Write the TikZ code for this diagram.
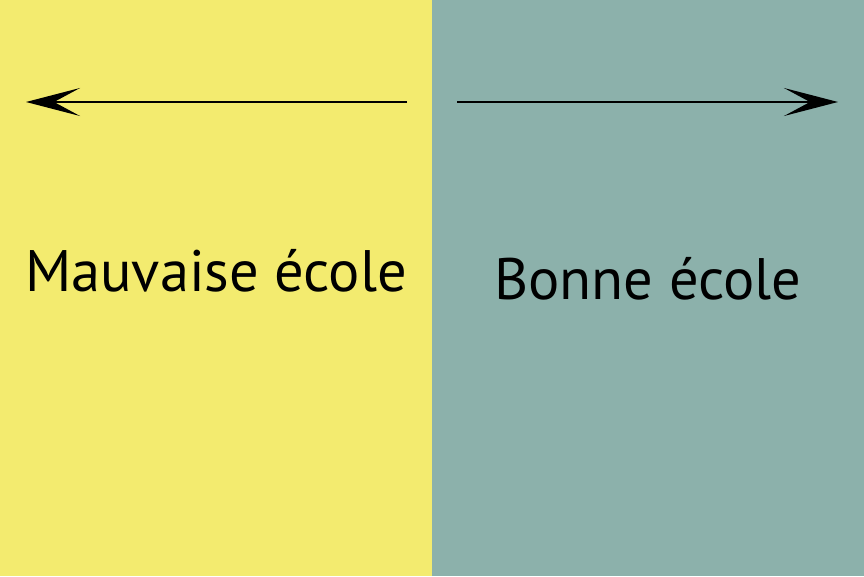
\documentclass[tikz,border=0pt]{standalone}
\usepackage{fontspec}
\setmainfont{PT Sans}
\usepackage{xcolor}
\usetikzlibrary{arrows.meta,positioning}
\definecolor{ecoleYellow}{HTML}{F3EB6F}
\definecolor{ecoleTeal}{HTML}{8CB1AB}

\begin{document}
\begin{tikzpicture}[x=1pt,y=1pt]
  \tikzset{panel/.style={inner sep=0pt,outer sep=0pt,minimum width=432pt,minimum height=576pt},
    label/.style={font=\fontsize{58.5}{60}\selectfont,inner sep=0pt},
    dirarrow/.style={-{Stealth[length=54pt,width=28pt,inset=26pt]},line width=2.4pt,black}}
  \useasboundingbox (0,0) rectangle (864,576);
  \node[panel,fill=ecoleYellow,anchor=south west] (bad) at (0,0) {};
  \node[panel,fill=ecoleTeal,anchor=south west] (good) at (432,0) {};
  \node[label,anchor=base] (badtext) at (216,284) {Mauvaise école};
  \node[label,anchor=base] (goodtext) at (648,276) {Bonne école};
  \coordinate (badstart) at (407,474);
  \coordinate (badend) at (26,474);
  \coordinate (goodstart) at (457,474);
  \coordinate (goodend) at (838,474);
  \draw[dirarrow] (badstart) -- (badend);
  \draw[dirarrow] (goodstart) -- (goodend);
\end{tikzpicture}
\end{document}
